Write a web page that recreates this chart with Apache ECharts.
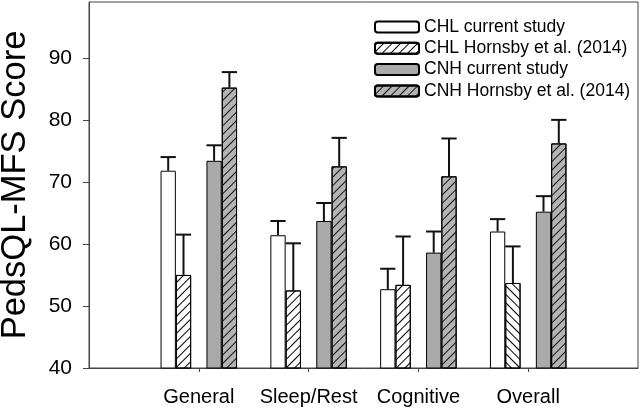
<!DOCTYPE html>
<html>
<head>
<meta charset="utf-8">
<script src="https://cdn.jsdelivr.net/npm/echarts@6/dist/echarts.min.js"></script>
<style>
html,body{margin:0;padding:0;background:#fff;}
#c{width:641px;height:408px;}
</style>
</head>
<body>
<div id="c"></div>
<script>
const categories = ['General', 'Sleep/Rest', 'Cognitive', 'Overall'];
const seriesNames = ['CHL current study', 'CHL Hornsby et al. (2014)', 'CNH current study', 'CNH Hornsby et al. (2014)'];
const chlCurrent = [71.8, 61.4, 52.7, 62.0];
const chlCurrentUpper = [74.0, 63.7, 56.0, 64.0];
const chlHornsby = [55.0, 52.5, 53.4, 53.7];
const chlHornsbyUpper = [61.5, 60.1, 61.2, 59.6];
const cnhCurrent = [73.4, 63.7, 58.6, 65.2];
const cnhCurrentUpper = [75.9, 66.6, 62.0, 67.7];
const cnhHornsby = [85.2, 72.5, 70.9, 76.2];
const cnhHornsbyUpper = [87.7, 77.1, 77.0, 80.0];
const yTicks = [40, 50, 60, 70, 80, 90];

const BAR_W = 15.3;
const paddedCats = [''].concat(categories, ['']);
const FONT = 'Liberation Sans, Arial, sans-serif';

function hatch(dir, color) {
  return { symbol: 'rect', symbolSize: 1, dashArrayX: [1, 0], dashArrayY: [1, 4.2], rotation: dir * Math.PI / 4, color: color };
}
const fwd = -1, back = 1;

function barData(vals) { return vals.map((v, i) => [i + 1, v]); }

const chlHornsbyData = chlHornsby.map((v, i) => {
  const d = { value: [i + 1, v] };
  if (i === 3) d.itemStyle = { decal: hatch(back, '#000') };
  return d;
});

const groups = [
  { name: seriesNames[0], vals: chlCurrent, up: chlCurrentUpper, slot: -2 },
  { name: seriesNames[1], vals: chlHornsby, up: chlHornsbyUpper, slot: -1 },
  { name: seriesNames[2], vals: cnhCurrent, up: cnhCurrentUpper, slot: 1 },
  { name: seriesNames[3], vals: cnhHornsby, up: cnhHornsbyUpper, slot: 2 }
];

const series = [
  { name: seriesNames[0], type: 'bar', barWidth: BAR_W, barGap: '0%', data: barData(chlCurrent),
    itemStyle: { color: '#ffffff', borderColor: '#000', borderWidth: 1 } },
  { name: seriesNames[1], type: 'bar', barWidth: BAR_W, barGap: '0%', data: chlHornsbyData,
    itemStyle: { color: '#ffffff', borderColor: '#000', borderWidth: 1, decal: hatch(fwd, '#000') } },
  { name: 'gap', type: 'bar', barWidth: BAR_W, barGap: '0%', data: categories.map(() => null), legendHoverLink: false },
  { name: seriesNames[2], type: 'bar', barWidth: BAR_W, barGap: '0%', data: barData(cnhCurrent),
    itemStyle: { color: '#aaaaaa', borderColor: '#000', borderWidth: 1 } },
  { name: seriesNames[3], type: 'bar', barWidth: BAR_W, barGap: '0%', data: barData(cnhHornsby),
    itemStyle: { color: '#b4b4b4', borderColor: '#000', borderWidth: 1, decal: hatch(fwd, '#111') } }
];

groups.forEach((g, gi) => {
  series.push({
    name: 'err' + gi, type: 'custom', z: 5,
    data: g.vals.map((v, i) => [i + 1, v, g.up[i]]),
    renderItem: function (params, api) {
      const base = api.coord([api.value(0), api.value(1)]);
      const top = api.coord([api.value(0), api.value(2)]);
      const x = base[0] + g.slot * BAR_W;
      const hw = BAR_W / 2;
      return { type: 'group', children: [
        { type: 'line', shape: { x1: x, y1: base[1], x2: x, y2: top[1] }, style: { stroke: '#111', lineWidth: 2 } },
        { type: 'line', shape: { x1: x - hw, y1: top[1], x2: x + hw, y2: top[1] }, style: { stroke: '#111', lineWidth: 2 } }
      ]};
    }
  });
});

const chart = echarts.init(document.getElementById('c'), null, { renderer: 'canvas' });
chart.setOption({
  animation: false,
  backgroundColor: '#fff',
  aria: { enabled: false },
  grid: { left: 89, top: 2, width: 549, height: 366, show: true, borderColor: '#444', borderWidth: 1, backgroundColor: 'transparent', containLabel: false, outerBoundsMode: 'none' },
  legend: {
    data: seriesNames, orient: 'vertical', left: 369, top: 13,
    itemWidth: 44, itemHeight: 11, itemGap: 3.3,
    textStyle: { fontFamily: FONT, fontSize: 17.5, color: '#000', lineHeight: 18 },
    selectedMode: false
  },
  xAxis: {
    type: 'category', data: paddedCats, boundaryGap: false,
    axisLine: { lineStyle: { color: '#444', width: 1 } },
    axisTick: { show: true, inside: false, length: 4, interval: (i) => i > 0 && i < paddedCats.length - 1, lineStyle: { color: '#444' } },
    axisLabel: { interval: 0, fontFamily: FONT, fontSize: 20, color: '#000', margin: 19 },
    splitLine: { show: false }
  },
  yAxis: {
    type: 'value', min: 40, max: 99, interval: 10,
    name: 'PedsQL-MFS Score', nameLocation: 'middle', nameGap: 56,
    nameTextStyle: { fontFamily: FONT, fontSize: 34.5, color: '#000' },
    axisLine: { show: true, lineStyle: { color: '#444', width: 1 } },
    axisTick: { show: true, length: 6, customValues: yTicks, lineStyle: { color: '#444' } },
    axisLabel: { fontFamily: FONT, fontSize: 21, color: '#000', margin: 17, customValues: yTicks },
    splitLine: { show: false }
  },
  series: series
});
</script>
</body>
</html>
